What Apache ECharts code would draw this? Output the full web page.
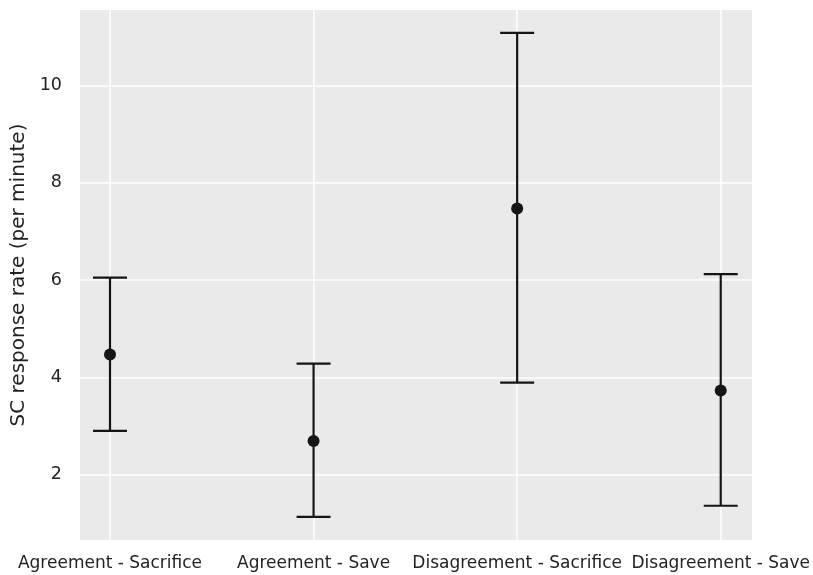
<!DOCTYPE html>
<html>
<head>
<meta charset="utf-8">
<script src="https://cdn.jsdelivr.net/npm/echarts@6/dist/echarts.min.js"></script>
<style>html,body{margin:0;padding:0;background:#fff}#c{width:813px;height:575px}</style>
</head>
<body>
<div id="c"></div>
<script>
const categories = ['Agreement - Sacrifice', 'Agreement - Save', 'Disagreement - Sacrifice', 'Disagreement - Save'];
const means = [4.47, 2.69, 7.47, 3.73];
const ciLow = [2.90, 1.13, 3.89, 1.36];
const ciHigh = [6.05, 4.28, 11.08, 6.12];
const yTicks = [2, 4, 6, 8, 10];
const yMin = 0.656, yMax = 11.55;

const chart = echarts.init(document.getElementById('c'), null, {renderer: 'canvas'});
const font = 'DejaVu Sans';
const ink = '#151515';
const txt = '#222222';

const option = {
  animation: false,
  backgroundColor: '#ffffff',
  grid: [
    {left: 80, right: 61, top: 10, bottom: 35, show: true, backgroundColor: '#EAEAEA', borderWidth: 0},
    {left: 110, right: 90, top: 10, bottom: 35}
  ],
  xAxis: [
    {gridIndex: 0, type: 'value', min: 0, max: 1, show: false},
    {gridIndex: 1, type: 'category', data: categories, boundaryGap: false,
      axisLine: {show: false}, axisTick: {show: false},
      splitLine: {show: true, lineStyle: {color: '#ffffff', width: 1.5}},
      axisLabel: {interval: 0, fontFamily: font, fontSize: 17, color: txt, margin: 15}}
  ],
  yAxis: [
    {gridIndex: 0, type: 'value', min: yMin, max: yMax,
      axisLine: {show: false}, axisTick: {show: false},
      splitLine: {show: false},
      axisLabel: {customValues: yTicks, fontFamily: font, fontSize: 17.5, color: txt, margin: 18, padding: [3, 0, 0, 0]},
      name: 'SC response rate (per minute)', nameLocation: 'middle', nameGap: 44,
      nameTextStyle: {fontFamily: font, fontSize: 20, color: txt}},
    {gridIndex: 1, type: 'value', min: yMin, max: yMax, show: false}
  ],
  series: [
    {
      type: 'line', xAxisIndex: 0, yAxisIndex: 0, data: [], silent: true,
      markLine: {
        silent: true, symbol: 'none', animation: false, z: 1,
        label: {show: false},
        lineStyle: {color: '#ffffff', width: 1.5, type: 'solid'},
        emphasis: {disabled: true},
        data: yTicks.map(v => ({yAxis: v}))
      },
      z: 1
    },
    {
      type: 'custom', xAxisIndex: 1, yAxisIndex: 1,
      data: categories.map((c, i) => [i, ciLow[i], ciHigh[i]]),
      renderItem: function (params, api) {
        const lo = api.coord([api.value(0), api.value(1)]);
        const hi = api.coord([api.value(0), api.value(2)]);
        const hw = 17;
        const st = {stroke: ink, lineWidth: 2.2};
        return {type: 'group', children: [
          {type: 'line', shape: {x1: lo[0], y1: lo[1], x2: hi[0], y2: hi[1]}, style: st},
          {type: 'line', shape: {x1: lo[0] - hw, y1: lo[1], x2: lo[0] + hw, y2: lo[1]}, style: st},
          {type: 'line', shape: {x1: hi[0] - hw, y1: hi[1], x2: hi[0] + hw, y2: hi[1]}, style: st}
        ]};
      },
      z: 10
    },
    {
      type: 'scatter', xAxisIndex: 1, yAxisIndex: 1,
      data: means.map((m, i) => [i, m]),
      symbol: 'circle', symbolSize: 12,
      itemStyle: {color: ink, opacity: 1},
      z: 11
    }
  ]
};
chart.setOption(option);
</script>
</body>
</html>
